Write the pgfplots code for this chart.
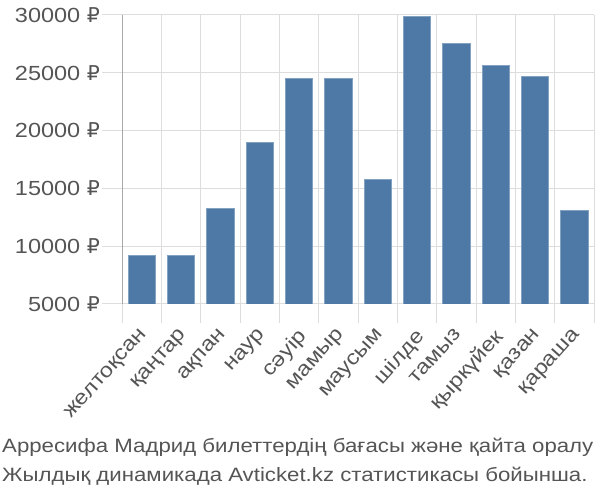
\documentclass[border=0pt]{standalone}
\usepackage{fontspec}
\setmainfont{Liberation Sans}[FakeStretch=1.15]
\newfontfamily\rubfont{DejaVu Sans}
\newcommand{\rub}{{\rubfont ₽}}
\usepackage{pgfplots}
\pgfplotsset{compat=1.18}
\definecolor{barblue}{HTML}{4E79A7}
\definecolor{gridgray}{HTML}{DDDDDD}
\definecolor{axisgray}{HTML}{A8A8A8}
\definecolor{txt}{HTML}{555555}
\begin{document}
\begin{tikzpicture}[x=1bp,y=1bp]
\path[use as bounding box] (0,0) rectangle (600,500);
\begin{axis}[
  at={(122bp,196bp)}, anchor=south west,
  scale only axis, width=472bp, height=289bp,
  xmin=-0.5, xmax=11.5, ymin=5000, ymax=30000,
  axis x line*=bottom, axis y line*=left,
  x axis line style={gridgray, line width=1pt, -},
  y axis line style={axisgray, line width=1pt, -},
  ytick={5000,10000,15000,20000,25000,30000},
  yticklabels={5000 \rub,10000 \rub,15000 \rub,20000 \rub,25000 \rub,30000 \rub},
  scaled y ticks=false,
  xtick={0,...,11},
  xticklabels={желтоқсан,қаңтар,ақпан,наур,сәуір,мамыр,маусым,шілде,тамыз,қыркүйек,қазан,қараша},
  minor xtick={-0.5,0.5,...,11.5},
  xmajorgrids=false, xminorgrids=true, ymajorgrids=true,
  grid style={gridgray, line width=1pt},
  minor grid style={gridgray, line width=1pt},
  tick align=outside,
  major tick length=20bp, minor tick length=19bp,
  major x tick style={draw=none},
  minor x tick style={gridgray, line width=1pt},
  major y tick style={gridgray, line width=1pt},
  tick label style={font=\fontsize{20.5}{22}\selectfont, text=txt},
  xticklabel style={rotate=48, anchor=north east, inner sep=1pt, xshift=-3bp, yshift=1bp},
  yticklabel style={inner sep=2bp},
]
\addplot[ybar, bar width=0.69, fill=barblue, draw=barblue!70!white, line width=0.8pt] coordinates {
(0,9200) (1,9200) (2,13250) (3,19000) (4,24500) (5,24500)
(6,15750) (7,29900) (8,27550) (9,25650) (10,24700) (11,13070)
};
\end{axis}
\node[anchor=west, text=txt, font=\fontsize{19.4}{24}\selectfont, inner sep=0pt] at (2,53) {Арресифа Мадрид билеттердің бағасы және қайта оралу};
\node[anchor=west, text=txt, font=\fontsize{19.4}{24}\selectfont, inner sep=0pt] at (2,24) {Жылдық динамикада Avticket.kz статистикасы бойынша.};
\end{tikzpicture}
\end{document}
